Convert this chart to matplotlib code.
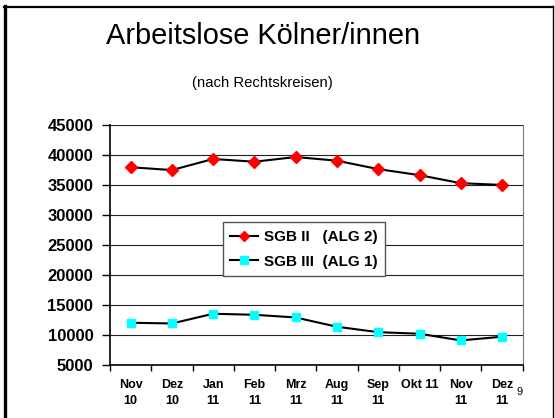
import matplotlib
matplotlib.use("Agg")
import matplotlib.pyplot as plt
from matplotlib.lines import Line2D
import numpy as np

plt.rcParams['font.family'] = ['Liberation Sans', 'DejaVu Sans']

categories = ["Nov\n10", "Dez\n10", "Jan\n11", "Feb\n11", "Mrz\n11",
              "Aug\n11", "Sep\n11", "Okt 11", "Nov\n11", "Dez\n11"]
sgb2 = [37950, 37480, 39330, 38870, 39660, 39040, 37640, 36630, 35290, 35000]
sgb3 = [12000, 11880, 13500, 13330, 12880, 11330, 10430, 10170, 9050, 9670]
yticks = [5000, 10000, 15000, 20000, 25000, 30000, 35000, 40000, 45000]

W, H = 555, 418
fig = plt.figure(figsize=(W / 100, H / 100), dpi=100)
ax = fig.add_axes([110 / W, 1 - 364.7 / H, (522.7 - 110) / W, (364.7 - 125) / H])

x = np.arange(len(categories))
ax.plot(x, sgb2, color='black', lw=1.5, marker='D', ms=6, mfc='#ff0000', mec='#ff0000',
        label='SGB II   (ALG 2)', zorder=4)
ax.plot(x, sgb3, color='black', lw=1.5, marker='s', ms=6, mfc='#00ffff', mec='#00ffff',
        label='SGB III  (ALG 1)', zorder=4)

ax.set_xlim(-0.5, len(categories) - 0.5)
ax.set_ylim(5000, 45000)
ax.set_yticks(yticks)
ax.set_yticklabels([str(v) for v in yticks], fontsize=12, fontweight='bold')
ax.yaxis.grid(True, color='#222222', lw=0.8)
ax.set_axisbelow(True)

ax.set_xticks(np.arange(-0.5, len(categories), 1.0))
ax.set_xticklabels([])
ax.set_xticks(x, minor=True)
ax.set_xticklabels(categories, minor=True, fontsize=9, fontweight='bold', linespacing=1.45)
ax.tick_params(axis='x', which='major', direction='out', length=4, width=1)
ax.tick_params(axis='x', which='minor', length=0, pad=10)
ax.tick_params(axis='y', direction='out', length=6, width=1, pad=6)

ax.spines['top'].set_visible(False)
ax.spines['right'].set_color('#777777')
ax.spines['left'].set_linewidth(1.2)
ax.spines['bottom'].set_linewidth(1.2)

leg = ax.legend(loc='upper left', bbox_to_anchor=(222.7 / W, 1 - 222.3 / H),
                bbox_transform=fig.transFigure, frameon=True, fancybox=False,
                framealpha=1, edgecolor='#555555', prop={'weight': 'bold', 'size': 11},
                handlelength=1.8, handletextpad=0.4, labelspacing=0.7,
                borderpad=0.5, borderaxespad=0, markerscale=0.85)
leg.get_frame().set_linewidth(1)

fig.text(263 / W, 1 - 36 / H, "Arbeitslose Kölner/innen", fontsize=20.9, ha='center', va='center')
fig.text(262 / W, 1 - 83 / H, "(nach Rechtskreisen)", fontsize=10.7, ha='center', va='center')
fig.text(520 / W, 1 - 392 / H, "9", fontsize=8, ha='center', va='center')

# slide frame
fig.add_artist(Line2D([4.5 / W, 4.5 / W], [0, 1 - 6 / H], transform=fig.transFigure,
                      color='black', lw=2.4))
fig.add_artist(Line2D([4 / W, 553 / W], [1 - 6.5 / H, 1 - 6.5 / H], transform=fig.transFigure,
                      color='black', lw=1.6))
fig.add_artist(Line2D([553 / W, 553 / W], [0, 1 - 6 / H], transform=fig.transFigure,
                      color='black', lw=1.0))

fig.savefig("out.png", dpi=100)
